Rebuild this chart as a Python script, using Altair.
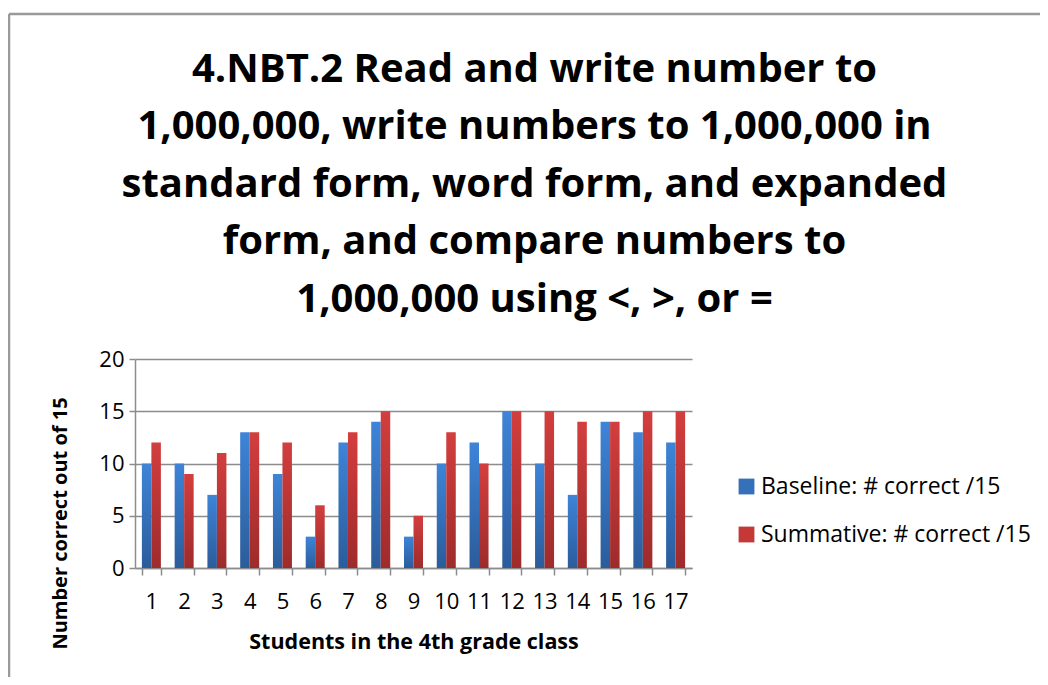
import altair as alt
import pandas as pd

students = [str(i) for i in range(1, 18)]
baseline = [10, 10, 7, 13, 9, 3, 12, 14, 3, 10, 12, 15, 10, 7, 14, 13, 12]
summative = [12, 9, 11, 13, 12, 6, 13, 15, 5, 13, 10, 15, 15, 14, 14, 15, 15]
series = ["Baseline: # correct /15", "Summative: # correct /15"]
colors = ["#3570bb", "#c43838"]
grad_top = ["#3e84d8", "#d33e3e"]
grad_bottom = ["#2b5c9b", "#9e2b2b"]
y_ticks = [0, 5, 10, 15, 20]
title_lines = [
    "4.NBT.2 Read and write number to",
    "1,000,000, write numbers to 1,000,000 in",
    "standard form, word form, and expanded",
    "form, and compare numbers to",
    "1,000,000 using <, >, or =",
]

rows = []
for s, b, m in zip(students, baseline, summative):
    rows.append({"student": s, "series": series[0], "value": b})
    rows.append({"student": s, "series": series[1], "value": m})
df = pd.DataFrame(rows)

FONT = "Open Sans"
W, H = 557, 209

x_enc = alt.X("student:N", sort=students,
              scale=alt.Scale(paddingInner=0.42, paddingOuter=0.21),
              axis=alt.Axis(title="Students in the 4th grade class", labelAngle=0,
                            labelFontSize=22, labelFont=FONT, labelColor="#000",
                            labelPadding=16, tickBand="extent", tickSize=7,
                            tickColor="#8c8c8c", domainColor="#8c8c8c", domainWidth=1.5,
                            tickWidth=1.5, titleFontSize=21.5, titleFont=FONT,
                            titleFontWeight="bold", titlePadding=19, titleColor="#000",
                            grid=False))
y_enc = alt.Y("value:Q", scale=alt.Scale(domain=[0, 20]),
              axis=alt.Axis(title="Number correct out of 15", values=y_ticks,
                            labelFontSize=22, labelFont=FONT, labelColor="#000",
                            labelPadding=5, tickSize=6, tickColor="#8c8c8c",
                            tickWidth=1.5, domainColor="#8c8c8c", domainWidth=1.5,
                            gridColor="#8c8c8c", gridWidth=1.5,
                            titleFontSize=20, titleFont=FONT, titleFontWeight="bold",
                            titleX=-75, titleY=164, titleBaseline="middle",
                            titleColor="#000"))
xo_enc = alt.XOffset("series:N", sort=series, scale=alt.Scale(domain=series))

base = alt.Chart(df)

legend_layer = base.mark_bar(opacity=0).encode(
    x=x_enc, xOffset=xo_enc, y=y_enc,
    color=alt.Color("series:N", sort=series,
                    scale=alt.Scale(domain=series, range=colors),
                    legend=alt.Legend(title=None, orient="none", legendX=600, legendY=116,
                                      symbolType="square", symbolSize=250,
                                      symbolOpacity=1,
                                      labelFontSize=23, labelFont=FONT, labelColor="#000",
                                      labelLimit=0, rowPadding=24, labelOffset=3,
                                      symbolStrokeWidth=0)),
)

grad_layers = []
for i, s in enumerate(series):
    grad = alt.LinearGradient(
        gradient="linear", x1=0, y1=0, x2=0, y2=1,
        stops=[alt.GradientStop(offset=0, color=grad_top[i]),
               alt.GradientStop(offset=1, color=grad_bottom[i])],
    )
    grad_layers.append(
        base.transform_filter(alt.datum.series == s).mark_bar(color=grad).encode(
            x=x_enc, xOffset=xo_enc, y=y_enc
        )
    )

border = alt.Chart(pd.DataFrame({"k": [0]})).mark_rule(color="#9a9a9a", strokeWidth=2.5).encode(
    x=alt.value(-126), x2=alt.value(910), y=alt.value(-345)
)
border2 = alt.Chart(pd.DataFrame({"k": [0]})).mark_rule(color="#9a9a9a", strokeWidth=2.5).encode(
    x=alt.value(-126), y=alt.value(-345), y2=alt.value(330)
)

chart = alt.layer(legend_layer, *grad_layers, border, border2).properties(
    width=W, height=H,
    autosize=alt.AutoSizeParams(type="none"),
    padding={"left": 127, "top": 351, "right": 348, "bottom": 109},
    title=alt.TitleParams(text=title_lines, font=FONT, fontSize=40, fontWeight="bold",
                          color="#000", anchor="middle", dx=121, dy=351, offset=44,
                          lineHeight=57.5),
).configure_view(stroke=None)

chart.save("out.html", embed_options={"renderer": "svg", "actions": False})
